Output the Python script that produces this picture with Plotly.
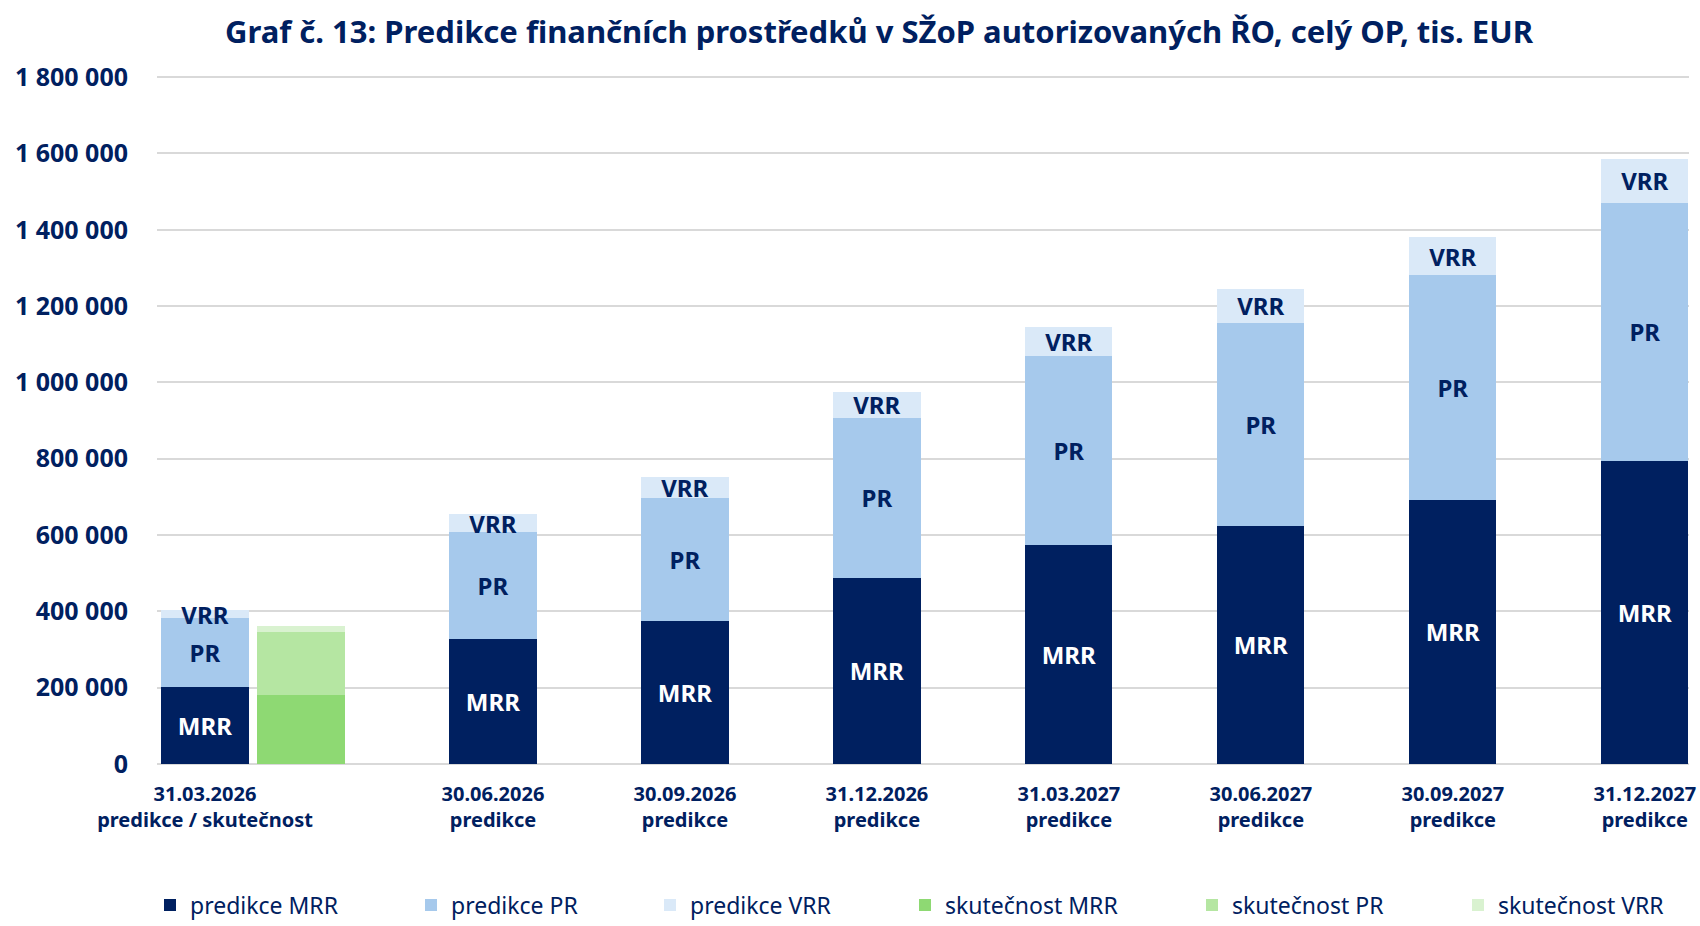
import plotly.graph_objects as go

# ---- data (tis. EUR) ----
categories = [
    "31.03.2026<br>predikce / skutečnost",
    "30.06.2026<br>predikce",
    "30.09.2026<br>predikce",
    "31.12.2026<br>predikce",
    "31.03.2027<br>predikce",
    "30.06.2027<br>predikce",
    "30.09.2027<br>predikce",
    "31.12.2027<br>predikce",
]
pred_mrr = [202000, 327000, 376000, 488000, 575000, 624000, 692000, 794000]
pred_pr = [180000, 280000, 320000, 419000, 494000, 533000, 590000, 677000]
pred_vrr = [22000, 47000, 57000, 68000, 76000, 87000, 98000, 114000]

act_mrr = [181000]
act_pr = [166000]
act_vrr = [15000]

y_ticks = [0, 200000, 400000, 600000, 800000, 1000000, 1200000, 1400000, 1600000, 1800000]

# ---- styling ----
NAVY = "#002060"
FONT = "Noto Sans"
C_PM, C_PP, C_PV = "#002060", "#A6C9EC", "#DAE9F8"
C_AM, C_AP, C_AV = "#8ED973", "#B5E6A2", "#D9F2D0"
BAR_W = 0.454

# positions: first group has prediction + actual pair, then a gap
idx = list(range(len(categories)))
x_pred = [i + (0.5 if i > 0 else 0.0) for i in idx]
x_act = [x_pred[0] + 0.5]

fig = go.Figure()

def add_bar(x, y, name, color, label, label_color, legendwidth):
    fig.add_trace(go.Bar(
        x=x, y=y, name=name, width=BAR_W,
        marker=dict(color=color, line=dict(width=0)),
        text=[label] * len(y) if label else None,
        textposition="inside" if label else "none",
        insidetextanchor="middle",
        constraintext="none",
        textfont=dict(family=FONT, size=24, color=label_color, weight="bold"),
        legendwidth=legendwidth,
        hoverinfo="y+name",
    ))

add_bar(x_pred, pred_mrr, "predikce MRR", C_PM, "MRR", "white", 216)
add_bar(x_pred, pred_pr, "predikce PR", C_PP, "PR", NAVY, 194)
add_bar(x_pred, pred_vrr, "predikce VRR", C_PV, "VRR", NAVY, 210)
add_bar(x_act, act_mrr, "skutečnost MRR", C_AM, None, None, 242)
add_bar(x_act, act_pr, "skutečnost PR", C_AP, None, None, 221)
add_bar(x_act, act_vrr, "skutečnost VRR", C_AV, None, None, 180)

fig.update_layout(
    width=1700, height=926,
    barmode="stack",
    separators=", ",
    paper_bgcolor="white", plot_bgcolor="white",
    margin=dict(l=157, r=11, t=76, b=162, autoexpand=False),
    font=dict(family=FONT, color=NAVY),
    title=dict(
        text="Graf č. 13: Predikce finančních prostředků v SŽoP autorizovaných ŘO, celý OP, tis. EUR",
        x=879 / 1700, xanchor="center", xref="container",
        y=1 - 32 / 926, yanchor="middle", yref="container",
        font=dict(family=FONT, size=31, color=NAVY, weight="bold"),
    ),
    xaxis=dict(
        range=[-0.25, 7.73],
        tickmode="array", tickvals=x_pred, ticktext=categories,
        showgrid=False, zeroline=False, showline=False, ticks="",
        tickfont=dict(family=FONT, size=20, color=NAVY, weight="bold"),
        ticklabelstandoff=16,
    ),
    yaxis=dict(
        range=[0, 1803000],
        tickmode="array", tickvals=y_ticks, tickformat=",d",
        showgrid=True, gridcolor="#D9D9D9", gridwidth=2,
        zeroline=True, zerolinecolor="#D9D9D9", zerolinewidth=2,
        showline=False, ticks="",
        tickfont=dict(family=FONT, size=25, color=NAVY, weight="bold"),
        ticklabelstandoff=28,
    ),
    legend=dict(
        orientation="h", x=150 / 1700, xanchor="left", xref="container",
        y=1 - 905 / 926, yanchor="middle", yref="container",
        font=dict(family=FONT, size=23, color=NAVY),
        traceorder="normal",
    ),
    showlegend=True,
)

fig.write_html(
    "out.html",
    config={"displayModeBar": False},
    post_script="document.body.style.margin='0';document.body.style.overflow='hidden';",
)
